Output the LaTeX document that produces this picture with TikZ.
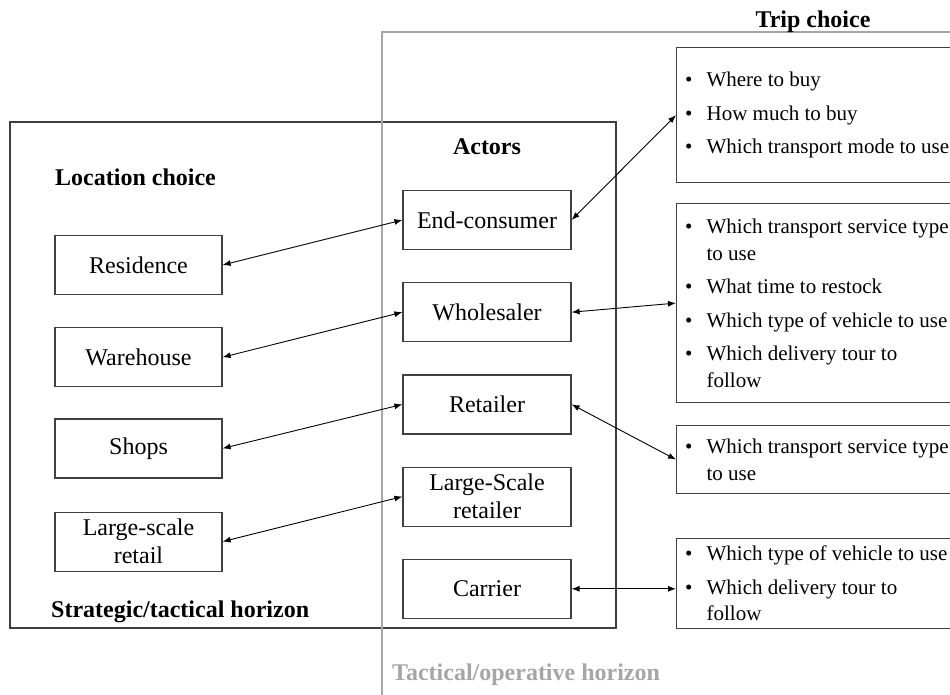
\documentclass[tikz,border=0pt]{standalone}
\usepackage{fontspec}
\setmainfont{Liberation Serif}
\usetikzlibrary{arrows.meta,positioning}
\definecolor{FrameDark}{HTML}{3F3F3F}
\definecolor{FrameGray}{HTML}{A6A6A6}
\definecolor{LineBox}{HTML}{404040}

% bulleted lists of the trip-choice boxes
\newcommand{\choicelist}[1]{\parbox{269pt}{\raggedright\setlength{\parskip}{7pt}#1}}
\newcommand{\choiceitem}[1]{\hangindent=21.5pt\hangafter=1\noindent\makebox[21.5pt][l]{\textbullet}#1\par}

\begin{document}
\begin{tikzpicture}[x=1pt,y=-1pt,
    every node/.style={font=\fontsize{24}{28}\selectfont},
    placebox/.style={draw=LineBox,line width=1.2pt,minimum width=167pt,minimum height=59pt,inner sep=3pt,align=center},
    actorbox/.style={draw=LineBox,line width=1.2pt,minimum width=168pt,minimum height=59pt,inner sep=3pt,align=center},
    choicebox/.style={draw=LineBox,line width=1.2pt,anchor=north west,inner xsep=8.5pt,inner ysep=2pt,font=\fontsize{21}{26.5}\selectfont},
    heading/.style={inner sep=0pt,font=\fontsize{24}{28}\selectfont\bfseries},
    link/.style={{Latex[length=8pt,width=6pt]}-{Latex[length=8pt,width=6pt]},line width=0.9pt}
  ]
  \useasboundingbox (0,0) rectangle (950,695);
  \clip (0,0) rectangle (950,695);

  % horizons
  \draw[FrameDark,line width=2pt] (10,122) rectangle (616,628);
  \draw[FrameGray,line width=2pt] (960,32) -- (382,32) -- (382,705);

  \node[heading,anchor=west] (loc) at (55,177) {Location choice};
  \node[heading,anchor=west] (strat) at (51,612) {Strategic/tactical horizon};
  \node[heading] (actors) at (487,147) {Actors};
  \node[heading] (trip) at (813,22) {Trip choice};
  \node[heading,anchor=west,text=FrameGray] (tact) at (392,675) {Tactical/operative horizon};

  % location choice
  \node[placebox] (res) at (138.5,265) {Residence};
  \node[placebox,below=32pt of res] (ware) {Warehouse};
  \node[placebox,below=31pt of ware] (shops) {Shops};
  \node[placebox,below=33pt of shops] (lsretail) {Large-scale\\retail};

  % actors
  \node[actorbox] (cons) at (487,220) {End-consumer};
  \node[actorbox,below=32pt of cons] (whole) {Wholesaler};
  \node[actorbox,below=32pt of whole] (retail) {Retailer};
  \node[actorbox,below=32pt of retail] (lsr) {Large-Scale\\retailer};
  \node[actorbox,below=32pt of lsr] (carrier) {Carrier};

  % trip choice
  \node[choicebox,minimum height=135pt] (trip1) at (676,47) {\choicelist{\choiceitem{Where to buy}\choiceitem{How much to buy}\choiceitem{Which transport mode to use}}};
  \node[choicebox,minimum height=199pt] (trip2) at (676,203) {\choicelist{\choiceitem{Which transport service type to use}\choiceitem{What time to restock}\choiceitem{Which type of vehicle to use}\choiceitem{Which delivery tour to follow}}};
  \node[choicebox,minimum height=68pt] (trip3) at (676,425) {\choicelist{\choiceitem{Which transport service type to use}}};
  \node[choicebox,minimum height=90pt] (trip4) at (676,538) {\choicelist{\choiceitem{Which type of vehicle to use}\choiceitem{Which delivery tour to follow}}};

  \draw[link] (res.east) -- (cons.west);
  \draw[link] (ware.east) -- (whole.west);
  \draw[link] (shops.east) -- (retail.west);
  \draw[link] (lsretail.east) -- (lsr.west);
  \draw[link] (cons.east) -- (trip1.west);
  \draw[link] (whole.east) -- (trip2.west);
  \draw[link] (retail.east) -- (trip3.west);
  \draw[link] (carrier.east) -- (carrier.east -| trip4.west);
\end{tikzpicture}
\end{document}
